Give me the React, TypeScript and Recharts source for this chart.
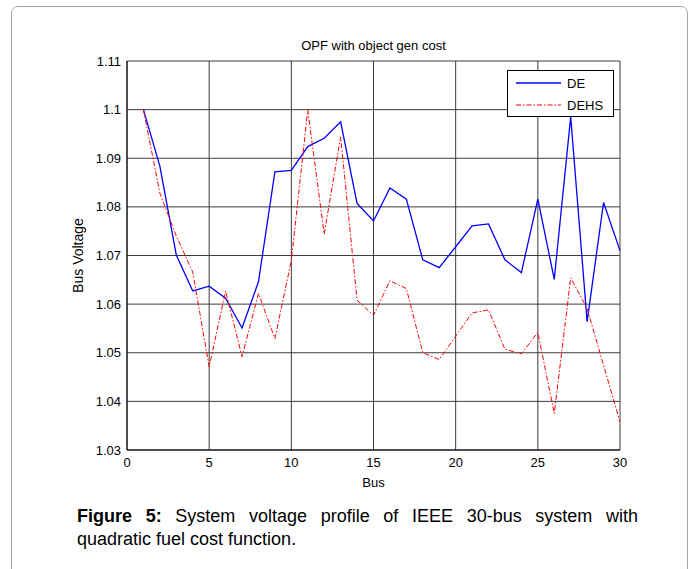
// @ts-nocheck
import React from 'react';
import { LineChart, Line, XAxis, YAxis, CartesianGrid, Legend } from 'recharts';

const BUS = [1, 2, 3, 4, 5, 6, 7, 8, 9, 10, 11, 12, 13, 14, 15, 16, 17, 18, 19, 20, 21, 22, 23, 24, 25, 26, 27, 28, 29, 30];
const DE = [1.1, 1.0884, 1.0701, 1.0627, 1.0637, 1.0612, 1.0551, 1.0646, 1.0872, 1.0875, 1.0924, 1.0941, 1.0975, 1.0807, 1.0771, 1.0839, 1.0816, 1.0691, 1.0675, 1.0718, 1.0761, 1.0765, 1.0691, 1.0665, 1.0816, 1.0651, 1.0985, 1.0564, 1.0809, 1.071];
const DEHS = [1.1, 1.0828, 1.074, 1.0666, 1.0471, 1.0627, 1.0492, 1.0622, 1.0529, 1.069, 1.0999, 1.0744, 1.0944, 1.0608, 1.0577, 1.0648, 1.0632, 1.05, 1.0486, 1.0534, 1.0582, 1.0588, 1.0507, 1.0498, 1.0542, 1.0375, 1.0654, 1.0591, 1.0474, 1.0358];
const X_TICKS = [0, 5, 10, 15, 20, 25, 30];
const Y_TICKS = [1.03, 1.04, 1.05, 1.06, 1.07, 1.08, 1.09, 1.1, 1.11];

const data = BUS.map((b, i) => ({ bus: b, DE: DE[i], DEHS: DEHS[i] }));

const FONT = '"Liberation Sans", Arial, sans-serif';
const tickStyle = { fontSize: 13, fill: '#000', fontFamily: FONT };

function LegendBox() {
  const row = { display: 'flex', alignItems: 'center', height: 22 };
  return (
    <div style={{ border: '1px solid #000', background: '#fff', width: 105, height: 45, boxSizing: 'content-box', fontFamily: FONT, fontSize: 13, color: '#000' }}>
      <div style={{ ...row, marginTop: 1 }}>
        <svg width={51} height={4} style={{ marginLeft: 8 }}>
          <line x1={0} y1={2} x2={45} y2={2} stroke="#0000ff" strokeWidth={1.3} />
        </svg>
        <span>DE</span>
      </div>
      <div style={row}>
        <svg width={51} height={4} style={{ marginLeft: 8 }}>
          <line x1={0} y1={2} x2={45} y2={2} stroke="#ff0000" strokeWidth={1} strokeDasharray="5 2 1.5 2" />
        </svg>
        <span>DEHS</span>
      </div>
    </div>
  );
}

export default function App() {
  return (
    <div style={{ position: 'absolute', left: 0, top: 0, width: 694, height: 569, overflow: 'hidden', background: '#fff' }}>
      <div style={{ position: 'absolute', left: 11, top: 6, width: 675, height: 620, border: '1px solid #a8a8a8', borderRadius: 7 }} />
      <div style={{ position: 'absolute', left: 127, width: 493, top: 38, lineHeight: '16px', textAlign: 'center', fontFamily: FONT, fontSize: 13 }}>
        OPF with object gen cost
      </div>
      <LineChart width={694} height={569} data={data} margin={{ top: 61, right: 74, bottom: 79, left: 29 }} style={{ position: 'absolute', left: 0, top: 0 }}>
        <CartesianGrid stroke="#3c3c3c" strokeWidth={1} />
        <XAxis dataKey="bus" type="number" domain={[0, 30]} ticks={X_TICKS} interval={0} height={40}
          tick={tickStyle} tickLine={false} tickSize={6} tickMargin={2} axisLine={{ stroke: '#000' }}
          label={{ value: 'Bus', position: 'insideBottom', offset: 3, style: { fontSize: 13, fill: '#000', fontFamily: FONT } }} />
        <XAxis xAxisId="top" orientation="top" type="number" domain={[0, 30]} ticks={X_TICKS} height={0}
          tick={false} tickLine={false} axisLine={{ stroke: '#000' }} />
        <YAxis type="number" domain={[1.03, 1.11]} ticks={Y_TICKS} interval={0} width={98}
          tick={tickStyle} tickLine={false} tickSize={4} tickMargin={2} axisLine={{ stroke: '#000' }}
          tickFormatter={(v) => String(Number(v.toFixed(2)))}
          label={{ value: 'Bus Voltage', angle: -90, position: 'center', style: { fontSize: 14, fill: '#000', fontFamily: FONT } }} />
        <YAxis yAxisId="right" orientation="right" type="number" domain={[1.03, 1.11]} ticks={Y_TICKS} width={0}
          tick={false} tickLine={false} axisLine={{ stroke: '#000' }} />
        <Legend layout="horizontal" verticalAlign="middle" align="center" content={() => <LegendBox />}
          wrapperStyle={{ position: 'absolute', left: 507, top: 70, width: 107, height: 47 }} />
        <Line dataKey="DE" type="linear" stroke="#0000ff" strokeWidth={1.3} dot={false} isAnimationActive={false} />
        <Line dataKey="DEHS" type="linear" stroke="#ff0000" strokeWidth={1} strokeDasharray="5 2 1.5 2" dot={false} isAnimationActive={false} />
      </LineChart>
      <div style={{ position: 'absolute', left: 77, width: 561, top: 505, lineHeight: '23px', fontFamily: FONT, fontSize: 18, textAlign: 'justify', textAlignLast: 'justify', whiteSpace: 'nowrap' }}>
        <b>Figure 5:</b> System voltage profile of IEEE 30-bus system with
      </div>
      <div style={{ position: 'absolute', left: 77, top: 528, lineHeight: '23px', fontFamily: FONT, fontSize: 18 }}>
        quadratic fuel cost function.
      </div>
    </div>
  );
}
